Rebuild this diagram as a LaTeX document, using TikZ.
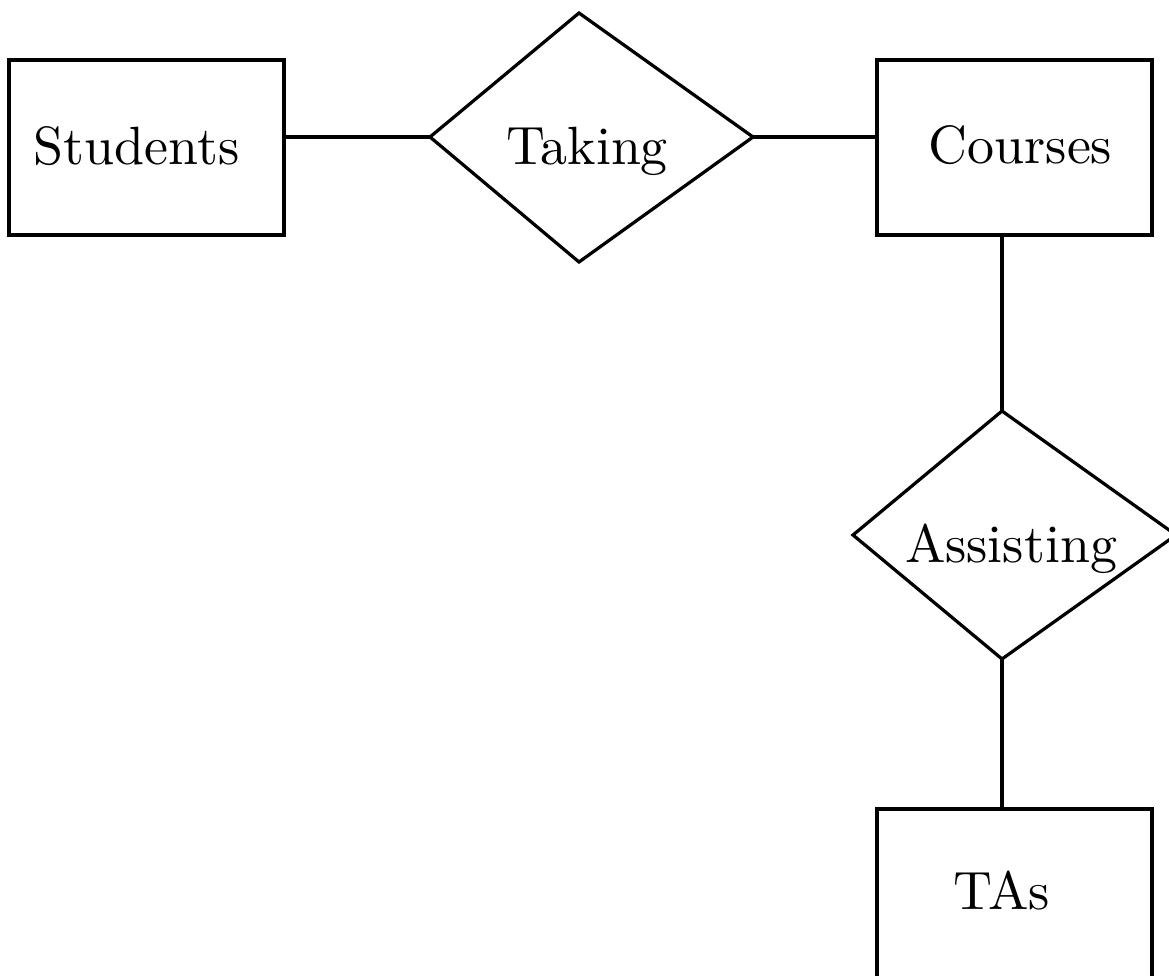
\documentclass[tikz,border=0pt]{standalone}
\tikzset{
  erlabel/.style={anchor=base, inner sep=0pt}
}
\begin{document}
\begin{tikzpicture}[x=0.652cm,y=-0.652cm,line width=0.6pt,line join=miter]

\useasboundingbox (0,0) rectangle (11.69,9.76);
\clip (0,0) rectangle (11.69,9.76);

% entity sets
\draw (0.09,0.60) rectangle (2.84,2.35);
\draw (8.77,0.60) rectangle (11.52,2.35);
\draw (8.77,8.09) rectangle (11.52,9.84);
\node[erlabel] (students) at (1.365,1.65) {Students};
\node[erlabel] (courses) at (10.205,1.64) {Courses};
\node[erlabel] (tas) at (10.02,9.09) {TAs};

% relationships
\coordinate (takeW) at (4.30,1.37);
\coordinate (takeN) at (5.79,0.13);
\coordinate (takeE) at (7.53,1.37);
\coordinate (takeS) at (5.79,2.62);
\draw (takeW) -- (takeN) -- (takeE) -- (takeS) -- cycle;
\node[erlabel] (taking) at (5.87,1.65) {Taking};

\coordinate (assistW) at (8.53,5.35);
\coordinate (assistN) at (10.02,4.11);
\coordinate (assistE) at (11.76,5.35);
\coordinate (assistS) at (10.02,6.59);
\draw (assistW) -- (assistN) -- (assistE) -- (assistS) -- cycle;
\node[erlabel] (assisting) at (10.11,5.62) {Assisting};

% ends on the entity boxes
\coordinate (studentsE) at (2.82,1.37);
\coordinate (coursesW) at (8.77,1.37);
\coordinate (coursesS) at (10.02,2.35);
\coordinate (tasN) at (10.02,8.09);

\draw (studentsE) -- (takeW);
\draw (takeE) -- (coursesW);
\draw (coursesS) -- (assistN);
\draw (assistS) -- (tasN);
\end{tikzpicture}
\end{document}
